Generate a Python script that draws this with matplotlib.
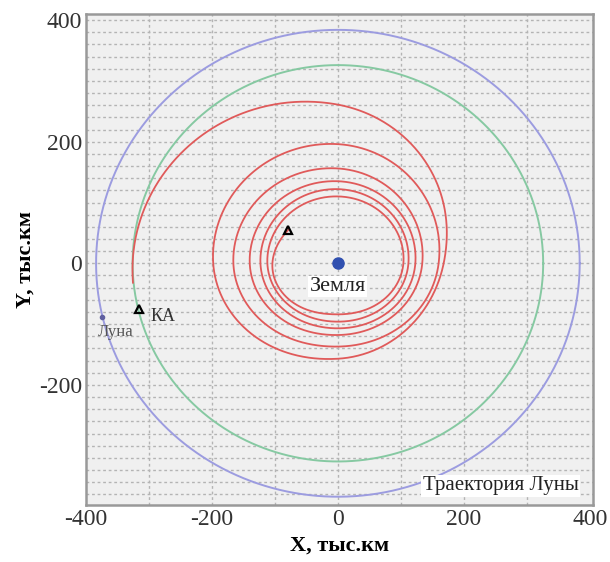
import numpy as np
import matplotlib
matplotlib.use('Agg')
import matplotlib.pyplot as plt

plt.rcParams['axes.unicode_minus'] = False

# orbit radii, thousand km
moon_orbit_r = 384
transfer_r = 326

# spacecraft spiral: polar angle (deg, counterclockwise, unwrapped) and distance from Earth
spiral_deg = [145, 180, 270, 360, 450,
              540, 630, 720, 810,
              900, 990, 1080, 1170,
              1260, 1350, 1440, 1530,
              1620, 1710, 1800, 1890,
              1980, 2070, 2160, 2250,
              2340, 2345.6]
spiral_r = [96, 104, 84, 104, 110,
            112, 96, 112, 122,
            123, 107, 123, 135,
            140, 118, 134, 156,
            166, 137, 160, 196,
            198, 157, 168, 261,
            326, 327]

earth_xy = (0, 0)
moon_xy = (-375, -88)
ka_xy = (-316, -75)
start_xy = (-79, 55)

xticks = [-400, -200, 0, 200, 400]
yticks = [-200, 0, 200, 400]


def smooth_interp(t, tk, vk):
    # cubic hermite through the knots
    tk = np.asarray(tk, float)
    vk = np.asarray(vk, float)
    m = np.gradient(vk, tk)
    i = np.clip(np.searchsorted(tk, t) - 1, 0, len(tk) - 2)
    h = tk[i + 1] - tk[i]
    s = np.clip((t - tk[i]) / h, 0, 1)
    h00 = 2 * s**3 - 3 * s**2 + 1
    h10 = s**3 - 2 * s**2 + s
    h01 = -2 * s**3 + 3 * s**2
    h11 = s**3 - s**2
    return h00 * vk[i] + h10 * h * m[i] + h01 * vk[i + 1] + h11 * h * m[i + 1]


fig = plt.figure(figsize=(6.1, 5.62), dpi=100)
ax = fig.add_axes([0.141, 0.101, 0.831, 0.874])
ax.set_facecolor('#f0f0f0')

serif = 'Liberation Serif'

# grid
for gx in range(-300, 400, 100):
    ax.axvline(gx, color='#b4b4b4', lw=1, ls=(0, (2, 2)), zorder=0)
for gy in range(-380, 420, 20):
    ax.axhline(gy, color='#b4b4b4', lw=1, ls=(0, (2, 2)), zorder=0)

t = np.linspace(0, 2 * np.pi, 600)
ax.plot(moon_orbit_r * np.cos(t), moon_orbit_r * np.sin(t), color='#9c9ce0', lw=1.4)
ax.plot(transfer_r * np.cos(t), transfer_r * np.sin(t), color='#86c9a2', lw=1.4)

th = np.linspace(spiral_deg[0], spiral_deg[-1], 5000)
r = smooth_interp(th, spiral_deg, spiral_r)
ax.plot(r * np.cos(np.radians(th)), r * np.sin(np.radians(th)), color='#e05a5a', lw=1.3)

ax.plot(*earth_xy, 'o', color='#3050b0', ms=8, zorder=5)
ax.text(earth_xy[0], -38, 'Земля', fontsize=16, family=serif, ha='center', va='center',
        color='#222222', bbox=dict(facecolor='white', edgecolor='none', pad=1), zorder=6)

ax.plot(*moon_xy, 'o', color='#6060a0', ms=3, zorder=5)
ax.text(-382, -113, 'Луна', fontsize=12, family=serif, color='#555555', va='center')

ax.plot(*ka_xy, '^', mfc='none', mec='black', mew=1.6, ms=6, zorder=5)
ax.text(-298, -88, 'КА', fontsize=13, family=serif, color='#333333', va='center')
ax.plot(*start_xy, '^', mfc='none', mec='black', mew=1.6, ms=6, zorder=5)

ax.text(135, -366, 'Траектория Луны', fontsize=15, family=serif, color='#222222', va='center',
        bbox=dict(facecolor='white', edgecolor='none', pad=1))

ax.set_xlim(-400, 405)
ax.set_ylim(-398, 410)
ax.set_xticks(xticks)
ax.set_yticks(yticks)
ax.tick_params(length=0, labelsize=17, pad=3, colors='#333333')
for lab in ax.get_xticklabels() + ax.get_yticklabels():
    lab.set_family(serif)
for s in ax.spines.values():
    s.set_color('#999999')
    s.set_linewidth(1.8)

ax.set_xlabel('X, тыс.км', fontsize=16, family=serif, fontweight='bold', labelpad=4)
ax.set_ylabel('Y, тыс.км', fontsize=16, family=serif, fontweight='bold', labelpad=2)

fig.savefig('out.png', dpi=100)
